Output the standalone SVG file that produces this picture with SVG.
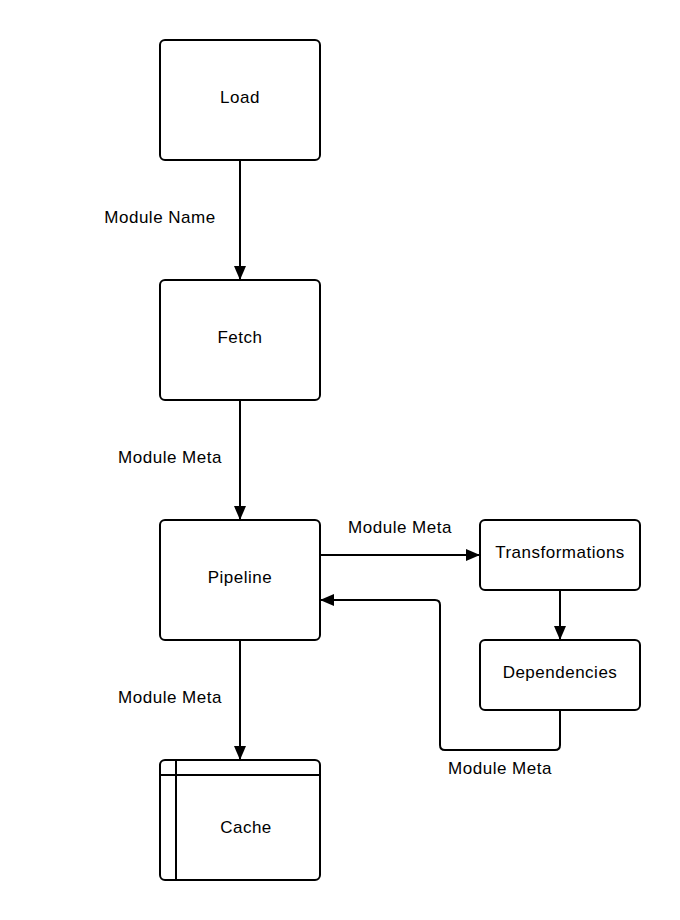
<svg xmlns="http://www.w3.org/2000/svg" width="680" height="920" viewBox="0 0 680 920">
<style>
.box{fill:#fff;stroke:#000;stroke-width:2}
.ln{fill:none;stroke:#000;stroke-width:2}
text{font-family:"Liberation Sans",Arial,sans-serif;font-size:17px;letter-spacing:0.5px;fill:#000;text-anchor:middle}
</style>
<defs>
<marker id="arr" markerWidth="14" markerHeight="12" refX="13" refY="6" orient="auto" markerUnits="userSpaceOnUse">
<path d="M0,0 L14,6 L0,12 Z" fill="#000"/>
</marker>
</defs>
<rect width="680" height="920" fill="#fff"/>
<g id="connectors">
<line class="ln" x1="240" y1="160" x2="240" y2="279" marker-end="url(#arr)"/>
<line class="ln" x1="240" y1="400" x2="240" y2="519" marker-end="url(#arr)"/>
<line class="ln" x1="240" y1="640" x2="240" y2="759" marker-end="url(#arr)"/>
<line class="ln" x1="320" y1="555" x2="479" y2="555" marker-end="url(#arr)"/>
<line class="ln" x1="560" y1="590" x2="560" y2="639" marker-end="url(#arr)"/>
<path class="ln" d="M560,710 V745 Q560,750 555,750 H445 Q440,750 440,745 V605 Q440,600 435,600 H321" marker-end="url(#arr)"/>
<text x="160" y="223">Module Name</text>
<text x="170" y="463">Module Meta</text>
<text x="170" y="703">Module Meta</text>
<text x="400" y="533">Module Meta</text>
<text x="500" y="774">Module Meta</text>
</g>
<g id="load"><rect class="box" x="160" y="40" width="160" height="120" rx="5"/><text x="240" y="103">Load</text></g>
<g id="fetch"><rect class="box" x="160" y="280" width="160" height="120" rx="5"/><text x="240" y="343">Fetch</text></g>
<g id="pipeline"><rect class="box" x="160" y="520" width="160" height="120" rx="5"/><text x="240" y="583">Pipeline</text></g>
<g id="cache"><rect class="box" x="160" y="760" width="160" height="120" rx="5"/><line class="ln" x1="160" y1="775" x2="320" y2="775"/><line class="ln" x1="176" y1="760" x2="176" y2="880"/><text x="246" y="833">Cache</text></g>
<g id="transformations"><rect class="box" x="480" y="520" width="160" height="70" rx="5"/><text x="560" y="558">Transformations</text></g>
<g id="dependencies"><rect class="box" x="480" y="640" width="160" height="70" rx="5"/><text x="560" y="678">Dependencies</text></g>
</svg>
